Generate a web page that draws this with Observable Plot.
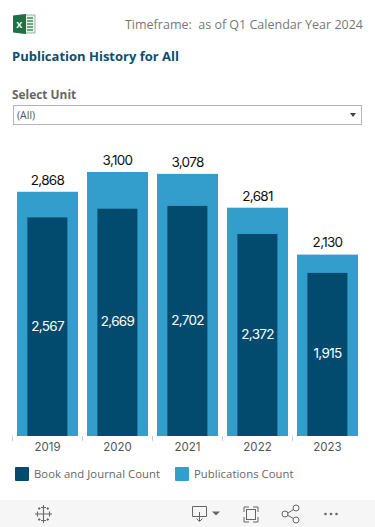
<!DOCTYPE html>
<html><head><meta charset="utf-8">
<script src="https://cdn.jsdelivr.net/npm/d3@7"></script>
<script src="https://cdn.jsdelivr.net/npm/@observablehq/plot@0.6"></script>
<style>
html,body{margin:0;padding:0;background:#fff;}
#page{position:relative;width:375px;height:527px;overflow:hidden;font-family:"Open Sans",sans-serif;}
.abs{position:absolute;white-space:nowrap;}
#tf{right:12px;top:16px;font-size:12.5px;color:#777;line-height:18px;}
#title{left:12px;top:47px;font-size:13px;font-weight:700;color:#0b4f71;line-height:18px;}
#sel{left:12px;top:86px;font-size:11.9px;font-weight:700;color:#666;line-height:16px;}
#box{left:13px;top:105px;width:349px;height:20px;border:1px solid #b4b4b4;box-sizing:border-box;font-size:10.5px;color:#555;line-height:18px;padding-left:3px;}
#arrow{left:350px;top:113px;width:0;height:0;border-left:3.5px solid transparent;border-right:3.5px solid transparent;border-top:4px solid #444;}
#chart{left:0;top:130px;}
#chart g[aria-label="text"] text{letter-spacing:-.7px;}
.sw{width:14px;height:14px;top:467px;border-radius:1px;}
.lg{top:465px;font-size:11.3px;color:#666;line-height:18px;letter-spacing:.05px;}
#bar{left:0;top:500px;width:375px;height:27px;background:#f6f6f6;}
</style></head><body>
<div id="page">
<svg class="abs" style="left:12px;top:13px" width="24" height="22" viewBox="0 0 24 22">
<rect x="9" y="2" width="14" height="18" fill="#e8f1ea" stroke="#7fae90" stroke-width=".8"/>
<path d="M15 5h6M15 8h6M15 11h6M15 14h6M15 17h6" stroke="#3f8f5e" stroke-width="1.4"/>
<path d="M1 2.5 14 1v20L1 19.5z" fill="#1f7145"/>
<text x="7.3" y="14.5" text-anchor="middle" font-family="Open Sans" font-weight="700" font-size="9" fill="#fff">X</text></svg>
<div class="abs" id="tf">Timeframe:&nbsp; as of Q1 Calendar Year 2024</div>
<div class="abs" id="title">Publication History for All</div>
<div class="abs" id="sel">Select Unit</div>
<div class="abs" id="box">(All)</div>
<div class="abs" id="arrow"></div>
<div class="abs" id="chart"></div>
<div class="abs sw" style="left:15px;background:#024b6f"></div>
<div class="abs lg" style="left:34px">Book and Journal Count</div>
<div class="abs sw" style="left:175px;background:#339dcc"></div>
<div class="abs lg" style="left:194px">Publications Count</div>
<div class="abs" id="bar"></div>
<svg class="abs" style="left:0;top:500px" width="375" height="27" fill="none" stroke="#666">
<g stroke-width="1.1"><path d="M43.500 10v8M39.500 14h8M43.500 5v5M41 7.500h5M43.500 18v5M41 20.500h5M35 14h5M37.500 11.500v5M47 14h5M49.500 11.500v5M38 8.500h2.500M39.200 7.300v2.400M46.500 8.500H49M47.700 7.300v2.400M38 19.500h2.500M39.200 18.300v2.400M46.500 19.500H49M47.700 18.300v2.400"/></g>
<path d="M192.500 6.500h14v10h-14zM199.500 12v9M196.500 18.500l3 3 3-3"/>
<path d="M212 11.500h8l-4 4z" fill="#666" stroke="none"/>
<path d="M244 12V7h5M253 7h5v5M258 17v5h-5M249 22h-5v-5"/><rect x="246.500" y="9.500" width="9" height="10"/>
<circle cx="296" cy="8" r="3"/><circle cx="285" cy="14" r="3"/><circle cx="296" cy="20" r="3"/><path d="M288 13l5.500-3.500M288 15.500l5.500 3"/>
<g fill="#666" stroke="none"><circle cx="325.500" cy="14" r="1.300"/><circle cx="331" cy="14" r="1.300"/><circle cx="336.500" cy="14" r="1.300"/></g>
</svg>
</div>
<script>
const years = ["2019","2020","2021","2022","2023"];
const publications = [2868,3100,3078,2681,2130];
const bookJournal = [2567,2669,2702,2372,1915];
const outerRows = years.map((year,i)=>({year,value:publications[i]}));
const innerRows = years.map((year,i)=>({year,value:bookJournal[i]}));
const fmt = d3.format(",");
const numFont = "Inter, sans-serif";
const chart = Plot.plot({
  width:375,height:320,
  marginLeft:12,marginRight:13,marginTop:0,marginBottom:14,
  style:{background:"transparent",overflow:"visible"},
  x:{domain:years,range:[12,362],padding:0,label:null},
  y:{domain:[0,3100],range:[306,42],axis:null},
  marks:[
    Plot.barY(outerRows,{x:"year",y:"value",fill:"#339dcc",insetLeft:5,insetRight:4}),
    Plot.barY(innerRows,{x:"year",y:"value",fill:"#024b6f",insetLeft:15.4,insetRight:14.6}),
    Plot.axisX({tickSize:5,text:null,dx:-35,stroke:"#ccc",label:null}),
    Plot.axisX({tickSize:0,tickPadding:6,fontSize:11.500,fontFamily:numFont,fill:"#555",label:null}),
    Plot.text(outerRows,{x:"year",y:"value",text:d=>fmt(d.value),dy:-12,fontSize:13.500,fontFamily:numFont,fill:"#111"}),
    Plot.text(innerRows,{x:"year",y:d=>d.value/2,dy:-1,text:d=>fmt(d.value),fontSize:13.500,fontFamily:numFont,fill:"#fff"})
  ]
});
document.getElementById("chart").appendChild(chart);
</script>
</body></html>
